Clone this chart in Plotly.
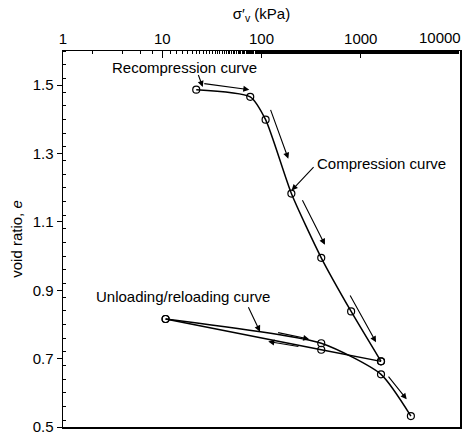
import math
import plotly.graph_objects as go

# Data
load_stress = [22, 77, 110, 200, 400, 800, 1600]
load_e = [1.487, 1.466, 1.399, 1.183, 0.995, 0.838, 0.692]

unload_stress = [1600, 400, 10.8]
unload_e = [0.692, 0.726, 0.816]

reload_stress = [10.8, 400, 1600, 3200]
reload_e = [0.816, 0.745, 0.654, 0.532]

x_ticks = [1, 10, 100, 1000, 10000]
y_ticks = [0.5, 0.7, 0.9, 1.1, 1.3, 1.5]

# Labels: (text, stress, e)
labels = [
    ("Recompression curve", 16.6, 1.551),
    ("Compression curve", 1626, 1.270),
    ("Unloading/reloading curve", 16.2, 0.883),
]

# Arrows: (tail stress, tail e, head stress, head e)
arrows = [
    (22.8, 1.534, 25.6, 1.495),
    (25.6, 1.505, 75.4, 1.487),
    (121.9, 1.432, 186.2, 1.285),
    (346, 1.265, 201, 1.192),
    (254, 1.168, 436, 1.033),
    (767, 0.889, 1425, 0.748),
    (1852, 0.652, 2904, 0.581),
    (72.6, 0.855, 96.6, 0.779),
    (142, 0.777, 303, 0.757),
    (244, 0.735, 117, 0.750),
]

FONT = "Liberation Sans, Arial, sans-serif"
FS = 15

fig = go.Figure()
line_style = dict(color="black", width=1.5, shape="spline", smoothing=0.6)
marker_style = dict(symbol="circle-open", size=7, color="black", line=dict(width=1.2))

for xs, ys in [(load_stress, load_e), (unload_stress, unload_e), (reload_stress, reload_e)]:
    fig.add_trace(go.Scatter(x=xs, y=ys, mode="lines+markers",
                             line=line_style, marker=marker_style,
                             showlegend=False, hoverinfo="skip"))

annotations = []
for text, sx, se in labels:
    annotations.append(dict(x=math.log10(sx), y=se, xref="x", yref="y", text=text,
                            showarrow=False, xanchor="center", yanchor="middle",
                            font=dict(family=FONT, size=FS, color="black")))
for tx, te, hx, he in arrows:
    annotations.append(dict(x=math.log10(hx), y=he, ax=math.log10(tx), ay=te,
                            xref="x", yref="y", axref="x", ayref="y", text="",
                            showarrow=True, arrowhead=2, arrowsize=1.1, arrowwidth=1.1,
                            arrowcolor="black", standoff=0, startstandoff=0))

# last top tick label placed right-aligned so it stays inside the figure
annotations.append(dict(x=math.log10(x_ticks[-1]), y=1, xref="x", yref="paper",
                        text=str(x_ticks[-1]), showarrow=False,
                        xanchor="right", yanchor="bottom", yshift=3, xshift=3,
                        font=dict(family=FONT, size=FS, color="black")))

tick_text = [str(v) for v in x_ticks[:-1]] + [""]

fig.update_layout(
    width=465, height=436,
    margin=dict(l=63, r=5, t=51, b=9),
    paper_bgcolor="white", plot_bgcolor="white",
    font=dict(family=FONT, size=FS, color="black"),
    annotations=annotations,
    xaxis=dict(type="log", side="top", range=[0, 4], automargin=False,
               tickvals=x_ticks, ticktext=tick_text,
               ticks="inside", ticklen=7, tickwidth=1, tickcolor="black",
               minor=dict(ticks="inside", ticklen=3, tickcolor="black", showgrid=False),
               showline=True, linecolor="black", linewidth=1.5, mirror=True,
               showgrid=False, zeroline=False, ticklabeloverflow="allow",
               tickfont=dict(family=FONT, size=FS),
               title=dict(text="σ′<sub>v</sub> (kPa)", standoff=6,
                          font=dict(family=FONT, size=FS))),
    yaxis=dict(range=[0.5, 1.6], tickvals=y_ticks, automargin=False,
               ticktext=[f"{v:.1f}" for v in y_ticks],
               ticks="outside", ticklen=5, tickwidth=1, tickcolor="black",
               minor=dict(ticks="inside", ticklen=3, dtick=0.04, tickcolor="black", showgrid=False),
               showline=True, linecolor="black", linewidth=1.5, mirror=True,
               showgrid=False, zeroline=False, ticklabeloverflow="allow",
               tickfont=dict(family=FONT, size=FS),
               title=dict(text="void ratio, <i>e</i>", standoff=6,
                          font=dict(family=FONT, size=FS))),
)

fig.write_html("out.html", config={"displayModeBar": False, "staticPlot": True})

# remove default page margins so the figure fills the window exactly
with open("out.html", "r", encoding="utf-8") as f:
    html = f.read()
html = html.replace("<head>", "<head><style>html,body{margin:0;padding:0;overflow:hidden;}</style>", 1)
with open("out.html", "w", encoding="utf-8") as f:
    f.write(html)
